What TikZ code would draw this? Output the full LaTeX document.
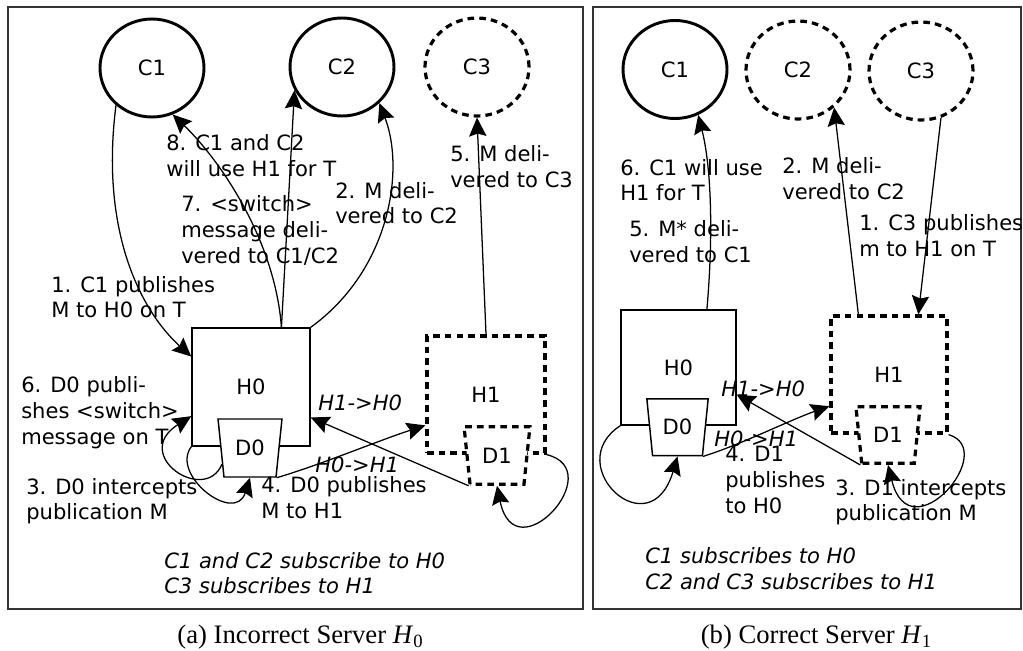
\documentclass[tikz,border=0pt]{standalone}
\usepackage{fontspec}
\setmainfont{Liberation Serif}
\newfontfamily\dejavu{DejaVu Sans}
\usetikzlibrary{shapes.geometric,arrows.meta}

% stacked label lines, baseline of the node = baseline of the first line
\newcommand\twolines[2]{\vtop{\hbox{#1}\hbox{#2}}}
\newcommand\threelines[3]{\vtop{\hbox{#1}\hbox{#2}\hbox{#3}}}

\begin{document}
\begin{tikzpicture}[x=0.75pt,y=-0.75pt,
  every node/.style={font=\dejavu\fontsize{15.8}{19.4}\selectfont},
  client/.style={ellipse, draw, line width=2.2pt, minimum width=78pt,
    minimum height=73.5pt, inner sep=0pt},
  host/.style={rectangle, draw, line width=1.1pt, inner sep=0pt},
  disp/.style={trapezium, trapezium left angle=102, trapezium right angle=102,
    trapezium stretches=true, draw, fill=white, line width=1.1pt, inner sep=0pt},
  dashln/.style={line width=2.4pt, dash pattern=on 5pt off 3.8pt},
  arr/.style={-{Stealth[length=14pt,width=13pt,inset=2pt]}, line width=0.95pt},
  lbl/.style={anchor=base west, inner sep=0pt},
  itl/.style={lbl, font=\dejavu\itshape\fontsize{15.8}{19.4}\selectfont},
  captxt/.style={anchor=base, inner sep=0pt, font=\rmfamily\fontsize{20}{24}\selectfont},
  frame/.style={draw=black!80, line width=1.4pt}]

\useasboundingbox (0,0) rectangle (1023,650);

% panel frames
\draw[frame] (8,7) rectangle (583,609);
\draw[frame] (593,7) rectangle (1021,609);

% ---------- panel (a) ----------
\node[client] (lC1) at (152,68) {C1};
\node[client] (lC2) at (342,67) {C2};
\node[client, dashln] (lC3) at (477,67) {C3};
\node[host, minimum width=88.5pt, minimum height=88.5pt] (lH0) at (251,387) {H0};
\node[host, dashln, minimum width=88.5pt, minimum height=87.75pt] (lH1) at (486,394.5) {H1};
\node[disp, minimum width=48pt, minimum height=43.5pt] (lD0) at (250,448) {D0};
\node[disp, dashln, minimum width=49.5pt, minimum height=43pt] (lD1) at (497,455.5) {D1};

\draw[arr] (lC1.-134) .. controls (100,230) and (140,310) .. (lH0.153);
\draw[arr] (lH0.north east) .. controls (390,270) and (405,170) .. (lC2.-44);
\draw[arr] (lH0.63) -- (lC2.206);
\draw[arr] (lH0.63) .. controls (275,240) and (220,160) .. (lC1.-66);
\draw[arr] (lH1.north) -- (lC3.south);
\draw[arr] (lD0.-150) .. controls (205,505) and (130,455) .. (lH0.206);
\draw[arr] (lH0.south west) .. controls (170,475) and (235,525) .. (lD0.south);
\draw[arr] (lD0.bottom right corner) .. controls (320,465) and (380,440) .. (lH1.207);
\draw[arr] (lD1.bottom left corner) -- (lH0.-27);
\draw[arr] (lH1.south east) .. controls (610,470) and (515,575) .. (lD1.south);

\node[lbl] (a8) at (166,150.5) {\twolines{8. C1 and C2}{will use H1 for T}};
\node[lbl] (a7) at (181,211.7) {\threelines{7. <switch>}{message deli-}{vered to C1/C2}};
\node[lbl] (a2) at (335,198) {\twolines{2. M deli-}{vered to C2}};
\node[lbl] (a5) at (450,161.7) {\twolines{5. M deli-}{vered to C3}};
\node[lbl] (a1) at (51,292) {\twolines{1. C1 publishes}{M to H0 on T}};
\node[lbl] (a6) at (21,392.7) {\threelines{6. D0 publi-}{shes <switch>}{message on T}};
\node[lbl] (a3) at (26,494) {\twolines{3. D0 intercepts}{publication M}};
\node[lbl] (a4) at (261,492.7) {\twolines{4. D0 publishes}{M to H1}};
\node[itl] (aHb) at (318,410) {H1->H0};
\node[itl] (aHf) at (315,472.7) {H0->H1};
\node[itl] (aSub) at (164,568) {\twolines{C1 and C2 subscribe to H0}{C3 subscribes to H1}};

% ---------- panel (b) ----------
\node[client] (rC1) at (675,69.5) {C1};
\node[client, dashln] (rC2) at (798,70) {C2};
\node[client, dashln] (rC3) at (921,71) {C3};
\node[host, minimum width=86.25pt, minimum height=86.25pt] (rH0) at (678.5,367.5) {H0};
\node[host, dashln, minimum width=87pt, minimum height=87.75pt] (rH1) at (889,374.5) {H1};
\node[disp, minimum width=46pt, minimum height=42.5pt] (rD0) at (677.5,427.3) {D0};
\node[disp, dashln, minimum width=48.2pt, minimum height=42.5pt] (rD1) at (888,435) {D1};

\draw[arr] (rH0.64) .. controls (713,240) and (712,170) .. (rC1.-63);
\draw[arr] (rH1.117) -- (rC2.-46);
\draw[arr] (rC3.-67) -- (rH1.64);
\draw[arr] (rD1.bottom left corner) -- (rH0.-25);
\draw[arr] (rD0.bottom right corner) .. controls (740,445) and (790,420) .. (rH1.208);
\draw[arr] (rH0.south west) .. controls (560,465) and (650,550) .. (rD0.south);
\draw[arr] (rH1.south east) .. controls (1000,450) and (910,555) .. (rD1.south);

\node[lbl] (b6) at (620,175) {\twolines{6. C1 will use}{H1 for T}};
\node[lbl] (b5) at (629,236.7) {\twolines{5. M* deli-}{vered to C1}};
\node[lbl] (b2) at (782,173.3) {\twolines{2. M deli-}{vered to C2}};
\node[lbl] (b1) at (859,230.7) {\twolines{1. C3 publishes}{m to H1 on T}};
\node[itl] (bHb) at (721,396.7) {H1->H0};
\node[itl] (bHf) at (714,446) {H0->H1};
\node[lbl] (b4) at (725,461.7) {\threelines{4. D1}{publishes}{to H0}};
\node[lbl] (b3) at (835,495) {\twolines{3. D1 intercepts}{publication M}};
\node[itl] (bSub) at (645,563.3) {\twolines{C1 subscribes to H0}{C2 and C3 subscribes to H1}};

% captions
\node[captxt] (capA) at (300,643) {(a) Incorrect Server \textit{H}\raisebox{-0.17em}{\fontsize{14}{16}\selectfont 0}};
\node[captxt] (capB) at (816,643) {(b) Correct Server \textit{H}\raisebox{-0.17em}{\fontsize{14}{16}\selectfont 1}};
\end{tikzpicture}
\end{document}
